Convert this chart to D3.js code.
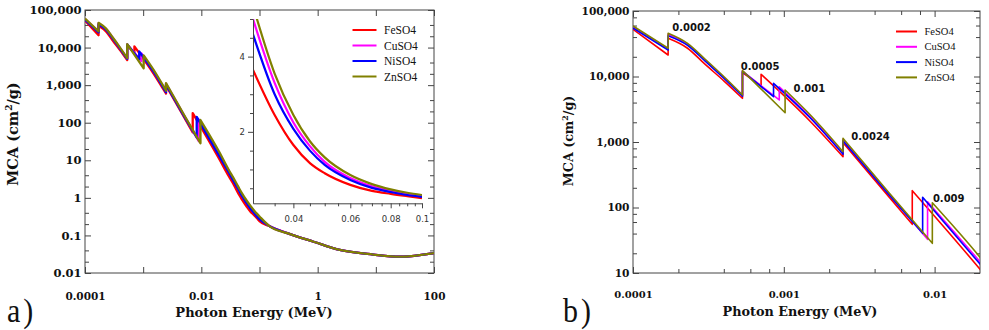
<!DOCTYPE html>
<html lang="en">
<head>
    <meta charset="UTF-8">
    <script src="https://d3js.org/d3.v7.min.js"></script>
    <title>MCA of FeSO4, CuSO4, NiSO4, ZnSO4</title>
    <style>
        body { margin:0; background:#fff; }
        svg { display:block; }
        .frame { fill:none; stroke:#444; stroke-width:1; }
        .curve { fill:none; stroke-linejoin:round; }
    </style>
</head>
<body>
    <script>
        var names = ["FeSO4", "CuSO4", "NiSO4", "ZnSO4"];
        var colors = ["#ff0000", "#ff00ff", "#0000ff", "#808000"];

        // photon energy (MeV) and MCA (cm2/g); an edge = two points at the same energy
        var feEnergy = [0.0001, 0.000171, 0.000171, 0.00023, 0.0003, 0.0004, 0.000532, 0.000532, 0.000707, 0.000707, 0.0015, 0.00247, 0.00247, 0.005, 0.00711, 0.00711, 0.02];
        var feMca    = [52500, 21300, 38300, 27000, 15400, 8600, 4650, 11500, 7170, 10800, 2060, 597, 977, 144, 55.4, 180.7, 11.4];
        var cuEnergy = [0.0001, 0.000171, 0.000171, 0.00023, 0.0003, 0.0004, 0.000532, 0.000532, 0.000933, 0.000933, 0.0015, 0.00247, 0.00247, 0.005, 0.00898, 0.00898, 0.02];
        var cuMca    = [57000, 26200, 44000, 31000, 18000, 9700, 5100, 12100, 4380, 6980, 2400, 680, 1090, 160, 32.7, 122.7, 14.9];
        var niEnergy = [0.0001, 0.000171, 0.000171, 0.00023, 0.0003, 0.0004, 0.000532, 0.000532, 0.000855, 0.000855, 0.0015, 0.00247, 0.00247, 0.005, 0.00833, 0.00833, 0.02];
        var niMca    = [55000, 25400, 42000, 30000, 17300, 9400, 5000, 12000, 4920, 7870, 2320, 650, 1040, 155, 40.4, 143, 13.7];
        var znEnergy = [0.0001, 0.000171, 0.000171, 0.00023, 0.0003, 0.0004, 0.000532, 0.000532, 0.00102, 0.00102, 0.0015, 0.00247, 0.00247, 0.005, 0.00966, 0.00966, 0.02];
        var znMca    = [59000, 27000, 45700, 32000, 18500, 10000, 5230, 12300, 2800, 6220, 2580, 711, 1138, 166, 28.4, 118, 17.4];

        // inset range 0.03 - 0.1 MeV
        var midEnergy = [0.03, 0.035, 0.04, 0.045, 0.05, 0.06, 0.07, 0.08, 0.09, 0.1];
        var feMid = [3.65, 2.45, 1.65, 1.17, 0.9, 0.59, 0.43, 0.35, 0.29, 0.24];
        var cuMid = [5.0, 3.3, 2.25, 1.62, 1.2, 0.77, 0.55, 0.43, 0.35, 0.29];
        var niMid = [4.59, 3.0, 2.08, 1.5, 1.12, 0.72, 0.51, 0.4, 0.32, 0.27];
        var znMid = [5.35, 3.55, 2.45, 1.75, 1.32, 0.85, 0.61, 0.47, 0.38, 0.32];

        // above 0.1 MeV the curves sit on top of each other
        var tailEnergy = [0.15, 0.3, 0.85, 2.4, 9, 26, 100];
        var tailMca = [0.175, 0.115, 0.068, 0.041, 0.031, 0.0272, 0.034];

        var edgeLabels = ["0.0002", "0.0005", "0.001", "0.0024", "0.009"];
        var edgeLabelEnergy = [0.000182, 0.000519, 0.00116, 0.0028, 0.00974];
        var edgeLabelMca = [49500, 12560, 5900, 1055, 121];

        var leftXTicks = [1e-4, 1e-3, 1e-2, 0.1, 1, 10, 100];
        var leftXLabels = ["0.0001", "", "0.01", "", "1", "", "100"];
        var leftYTicks = [0.01, 0.1, 1, 10, 100, 1e3, 1e4, 1e5];
        var leftYLabels = ["0.01", "0.1", "1", "10", "100", "1,000", "10,000", "100,000"];
        var rightXTicks = [1e-4, 1e-3, 1e-2];
        var rightXLabels = ["0.0001", "0.001", "0.01"];
        var rightYTicks = [10, 100, 1e3, 1e4, 1e5];
        var rightYLabels = ["10", "100", "1,000", "10,000", "100,000"];
        var insetXTicks = [0.04, 0.06, 0.08, 0.1];
        var insetXLabels = ["0.04", "0.06", "0.08", "0.1"];
        var insetYTicks = [2, 4];
        var insetYLabels = ["2", "4"];

        function build(e, v, mid) {
            var pts = e.map((d, i) => ({x:d, y:v[i]}));
            midEnergy.forEach((d, i) => pts.push({x:d, y:mid[i]}));
            tailEnergy.forEach((d, i) => pts.push({x:d, y:tailMca[i]}));
            return pts;
        }
        var series = [build(feEnergy, feMca, feMid), build(cuEnergy, cuMca, cuMid),
                      build(niEnergy, niMca, niMid), build(znEnergy, znMca, znMid)];

        // smooth between edges, straight vertical jump at each edge
        function edgePath(pts, line) {
            var segs = [], cur = [pts[0]];
            for (var i = 1; i < pts.length; i++) {
                if (pts[i].x === pts[i - 1].x) { segs.push(cur); cur = [pts[i]]; }
                else cur.push(pts[i]);
            }
            segs.push(cur);
            return segs.map((s, k) => {
                var d = line(s).replace(/Z/g, "");
                return k ? "L" + d.slice(1) : d;
            }).join("");
        }

        function minors(lo, hi, mults) {
            var out = [];
            for (var d = lo; d < hi * 0.999; d *= 10) mults.forEach(m => out.push(d * m));
            return out;
        }

        var svg = d3.select("body").append("svg").attr("width", 989).attr("height", 330);
        var defs = svg.append("defs");

        function clip(id, x0, y0, x1, y1) {
            defs.append("clipPath").attr("id", id).append("rect")
                .attr("x", x0).attr("y", y0).attr("width", x1 - x0).attr("height", y1 - y0);
            return "url(#" + id + ")";
        }

        function styleAxis(g, font, size, weight) {
            g.select(".domain").remove();
            g.attr("color", "#444").attr("font-family", font).attr("font-size", size).attr("font-weight", weight);
            g.selectAll("text").attr("fill", "#111");
        }

        function framedPanel(o) {
            var x = o.x, y = o.y;
            var x0 = x.range()[0], x1 = x.range()[1], y0 = y.range()[1], y1 = y.range()[0];
            var g = svg.append("g");

            var b = g.append("g").attr("transform", "translate(0," + y1 + ")")
                .call(d3.axisBottom(x).tickValues(o.xTicks).tickFormat((d, i) => o.xLabels[i]).tickSizeInner(-6).tickSizeOuter(0));
            styleAxis(b, "DejaVu Serif", o.xFont, "bold");
            b.selectAll("text").attr("y", o.xLabelY).attr("dy", 0);
            var t = g.append("g").attr("transform", "translate(0," + y0 + ")")
                .call(d3.axisTop(x).tickValues(o.xTicks).tickFormat("").tickSizeInner(-6).tickSizeOuter(0));
            styleAxis(t, "DejaVu Serif", 10, "bold");
            if (o.xMinor) {
                [[y1, d3.axisBottom], [y0, d3.axisTop]].forEach(function (p) {
                    var m = g.append("g").attr("transform", "translate(0," + p[0] + ")")
                        .call(p[1](x).tickValues(o.xMinor).tickFormat("").tickSizeInner(-4).tickSizeOuter(0));
                    styleAxis(m, "DejaVu Serif", 10, "bold");
                });
            }

            var l = g.append("g").attr("transform", "translate(" + x0 + ",0)")
                .call(d3.axisLeft(y).tickValues(o.yTicks).tickFormat((d, i) => o.yLabels[i]).tickSizeInner(-6).tickSizeOuter(0).tickPadding(3.5));
            styleAxis(l, "DejaVu Serif", o.yFont, "bold");
            var r = g.append("g").attr("transform", "translate(" + x1 + ",0)")
                .call(d3.axisRight(y).tickValues(o.yTicks).tickFormat("").tickSizeInner(-6).tickSizeOuter(0));
            styleAxis(r, "DejaVu Serif", 10, "bold");
            [[x0, d3.axisLeft], [x1, d3.axisRight]].forEach(function (p) {
                var m = g.append("g").attr("transform", "translate(" + p[0] + ",0)")
                    .call(p[1](y).tickValues(o.yMinor).tickFormat("").tickSizeInner(-4).tickSizeOuter(0));
                styleAxis(m, "DejaVu Serif", 10, "bold");
            });

            g.append("rect").attr("class", "frame").attr("x", x0).attr("y", y0)
                .attr("width", x1 - x0).attr("height", y1 - y0);

            var line = d3.line().x(d => x(d.x)).y(d => y(d.y)).curve(d3.curveMonotoneX);
            var cg = g.append("g").attr("clip-path", clip(o.id, x0, y0, x1, y1));
            cg.selectAll("path").data(series).join("path").attr("class", "curve")
                .attr("d", d => edgePath(d, line)).attr("stroke", (d, i) => colors[i]).attr("stroke-width", o.lineWidth);

            g.append("text").attr("x", o.xTitle[0]).attr("y", o.xTitle[1]).attr("text-anchor", "middle")
                .attr("font-family", "DejaVu Serif").attr("font-weight", "bold").attr("font-size", o.xTitleFont)
                .attr("fill", "#111").text("Photon Energy (MeV)");
            var yt = g.append("text").attr("transform", "translate(" + o.yTitle[0] + "," + o.yTitle[1] + ") rotate(-90)")
                .attr("text-anchor", "middle").attr("font-family", "DejaVu Serif").attr("font-weight", "bold")
                .attr("font-size", o.yTitleFont).attr("fill", "#111");
            yt.append("tspan").text("MCA (cm");
            yt.append("tspan").attr("font-size", o.yTitleFont * 0.62).attr("dy", -o.yTitleFont * 0.4).text("2");
            yt.append("tspan").attr("dy", o.yTitleFont * 0.4).text("/g)");

            g.append("text").attr("transform", "translate(" + o.tag[0] + "," + o.tag[1] + ") scale(1,1.15)")
                .attr("font-family", "Liberation Serif").attr("font-size", 30).attr("letter-spacing", 3)
                .attr("fill", "#111").text(o.tagText);

            var lg = g.selectAll(".leg").data(names).join("g").attr("class", "leg")
                .attr("transform", (d, i) => "translate(0," + (o.legend[2] + i * o.legend[3]) + ")");
            lg.append("line").attr("x1", o.legend[0]).attr("x2", o.legend[0] + o.legend[1])
                .attr("stroke", (d, i) => colors[i]).attr("stroke-width", 2);
            lg.append("text").attr("x", o.legend[0] + o.legend[1] + 7.5).attr("dy", "0.35em")
                .attr("font-family", "Liberation Serif").attr("font-size", o.legendFont).attr("fill", "#111").text(d => d);
            return g;
        }

        // a) full range with inset
        var xL = d3.scaleLog().domain([1e-4, 100]).range([85, 434]);
        var yL = d3.scaleLog().domain([0.01, 1e5]).range([273, 10]);
        framedPanel({id:"clipA", x:xL, y:yL, xTicks:leftXTicks, xLabels:leftXLabels, xFont:10.5, xLabelY:26.5,
            yTicks:leftYTicks, yLabels:leftYLabels, yFont:11.5, yMinor:minors(0.01, 1e5, [2, 4]),
            lineWidth:2.3, xTitle:[254, 317], xTitleFont:13, yTitle:[18, 134], yTitleFont:14.5,
            tag:[7, 322], tagText:"a)", legend:[352.5, 24, 30, 15.5], legendFont:11.5});

        var xI = d3.scaleLog().domain([0.03, 0.1]).range([253, 422]);
        var yI = d3.scaleLinear().domain([0.1, 5]).range([203.3, 19]);
        var inset = svg.append("g");
        var insetLine = d3.line().x(d => xI(d.x)).y(d => yI(d.y)).curve(d3.curveMonotoneX);
        inset.append("g").attr("clip-path", clip("clipI", 253, 19, 422, 203.3))
            .selectAll("path").data(series.map(s => s.filter(d => d.x >= 0.03 && d.x <= 0.1))).join("path")
            .attr("class", "curve").attr("d", insetLine).attr("stroke", (d, i) => colors[i]).attr("stroke-width", 2.2);
        var ixMinor = d3.range(0.035, 0.1001, 0.005).filter(v => insetXTicks.every(t => Math.abs(t - v) > 1e-6));
        var iyMinor = d3.range(0.5, 5.01, 0.5).filter(v => insetYTicks.indexOf(v) < 0);
        var ib = inset.append("g").attr("transform", "translate(0,203.3)")
            .call(d3.axisBottom(xI).tickValues(insetXTicks).tickFormat((d, i) => insetXLabels[i]).tickSizeInner(5).tickSizeOuter(0).tickPadding(8));
        ib.attr("color", "#444").attr("font-family", "DejaVu Sans").attr("font-size", 8.5);
        ib.append("g").call(d3.axisBottom(xI).tickValues(ixMinor).tickFormat("").tickSizeInner(3).tickSizeOuter(0))
            .select(".domain").remove();
        ib.selectAll("text").attr("fill", "#333");
        var il = inset.append("g").attr("transform", "translate(253,0)")
            .call(d3.axisLeft(yI).tickValues(insetYTicks).tickFormat((d, i) => insetYLabels[i]).tickSizeInner(5).tickSizeOuter(0).tickPadding(3));
        il.attr("color", "#444").attr("font-family", "DejaVu Sans").attr("font-size", 8.5);
        il.append("g").call(d3.axisLeft(yI).tickValues(iyMinor).tickFormat("").tickSizeInner(3).tickSizeOuter(0))
            .select(".domain").remove();
        il.selectAll("text").attr("fill", "#333");

        // b) low energy detail with edge labels
        var xR = d3.scaleLog().domain([1e-4, 0.02]).range([633, 980]);
        var yR = d3.scaleLog().domain([10, 1e5]).range([273, 11]);
        var panelB = framedPanel({id:"clipB", x:xR, y:yR, xTicks:rightXTicks, xLabels:rightXLabels, xFont:10, xLabelY:24.5,
            xMinor:minors(1e-4, 1e-2, [2, 4, 6, 8]),
            yTicks:rightYTicks, yLabels:rightYLabels, yFont:10.6, yMinor:minors(10, 1e5, [2, 4, 6, 8]),
            lineWidth:1.6, xTitle:[800, 316], xTitleFont:12.8, yTitle:[573, 141], yTitleFont:12.7,
            tag:[563, 322], tagText:"b)", legend:[896, 21, 31.5, 15.3], legendFont:10.5});
        panelB.selectAll(".edge").data(edgeLabels).join("text").attr("class", "edge")
            .attr("x", (d, i) => xR(edgeLabelEnergy[i])).attr("y", (d, i) => yR(edgeLabelMca[i]))
            .attr("font-family", "DejaVu Sans").attr("font-weight", "bold").attr("font-size", 10)
            .attr("fill", "#111").text(d => d);
    </script>
</body>
</html>
